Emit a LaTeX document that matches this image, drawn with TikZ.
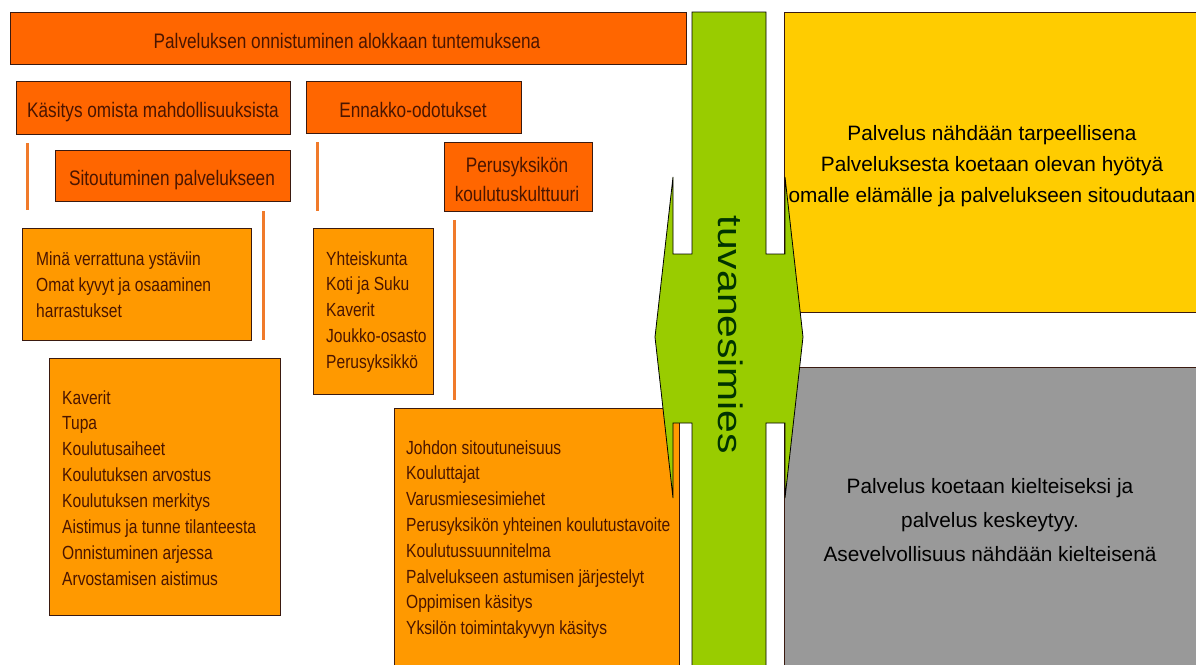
\documentclass[tikz,border=0pt]{standalone}
\usepackage{fontspec}
\setmainfont{Liberation Sans}
\newfontfamily\narrowfont[FakeStretch=0.82]{Liberation Sans}
\newfontfamily\wideflow[FakeStretch=1.2]{Liberation Sans}
\definecolor{titleor}{HTML}{FF6600}
\definecolor{listor}{HTML}{FF9900}
\definecolor{greenbar}{HTML}{99CC00}
\definecolor{yellowbox}{HTML}{FFCC00}
\definecolor{graybox}{HTML}{999999}
\definecolor{edge}{HTML}{3A1A10}
\definecolor{ortext}{HTML}{4A1500}
\definecolor{linkor}{HTML}{F07A2A}
\definecolor{gtext}{HTML}{003300}
\begin{document}
\begin{tikzpicture}[x=1pt,y=-1pt,
  boxshape/.style={draw=edge, line width=1pt},
  labelbox/.style={boxshape, fill=titleor},
  listbox/.style={boxshape, fill=listor},
  labeltxt/.style={anchor=base, inner sep=0pt, text=ortext, font=\narrowfont\fontsize{21}{25}\selectfont},
  listtxt/.style={anchor=base west, inner sep=0pt, text=ortext, font=\narrowfont\fontsize{19}{26}\selectfont},
  resulttxt/.style={anchor=base, inner sep=0pt, text=black, font=\fontsize{20.8}{31}\selectfont},
  link/.style={draw=linkor, line width=3pt},
]
\useasboundingbox (0,0) rectangle (1196,664);
\clip (0,0) rectangle (1196,664);
\fill[white] (0,0) rectangle (1196,664);

% boxes
\draw[labelbox] (10,12) rectangle (686,64);
\draw[labelbox] (16,81) rectangle (290,134);
\draw[labelbox] (306,81) rectangle (521,133);
\draw[labelbox] (55,150) rectangle (290,201);
\draw[labelbox] (444,142) rectangle (592,211);
\draw[listbox] (22,228) rectangle (251,340);
\draw[listbox] (313,228) rectangle (433,394);
\draw[listbox] (49,358) rectangle (280,615);
\draw[listbox] (394,408) rectangle (679,690);
\draw[boxshape, fill=yellowbox] (784,12) rectangle (1220,312);
\draw[boxshape, fill=graybox] (784,367) rectangle (1220,690);

% orange separator lines
\coordinate (l1a) at (27,143);  \coordinate (l1b) at (27,210);
\coordinate (l2a) at (263,211); \coordinate (l2b) at (263,340);
\coordinate (l3a) at (317,142); \coordinate (l3b) at (317,211);
\coordinate (l4a) at (454,220); \coordinate (l4b) at (454,400);
\draw[link] (l1a) -- (l1b);
\draw[link] (l2a) -- (l2b);
\draw[link] (l3a) -- (l3b);
\draw[link] (l4a) -- (l4b);

% green double arrow with vertical bar
\draw[fill=greenbar, draw=black, line width=0.8pt, line join=miter]
  (692,12) -- (766,12) -- (766,254) -- (785,254) -- (785,177) -- (803,337)
  -- (785,498) -- (785,423) -- (766,423) -- (766,700) -- (692,700)
  -- (692,423) -- (673,423) -- (673,498) -- (655,337) -- (673,177)
  -- (673,254) -- (692,254) -- cycle;
\node[rotate=-90, anchor=base, inner sep=0pt, text=gtext, font=\wideflow\fontsize{34}{40}\selectfont] (tuva) at (718,335) {tuvanesimies};

% labels
\node[labeltxt] (title) at (347,48) {Palveluksen onnistuminen alokkaan tuntemuksena};
\node[labeltxt] (kas) at (153,117) {Käsitys omista mahdollisuuksista};
\node[labeltxt] (enn) at (413,117) {Ennakko-odotukset};
\node[labeltxt] (sit) at (172,185) {Sitoutuminen palvelukseen};
\node[labeltxt] (per1) at (517,172) {Perusyksikön};
\node[labeltxt] (per2) at (517,201) {koulutuskulttuuri};

% lists
\foreach \t [count=\i] in {Minä verrattuna ystäviin, Omat kyvyt ja osaaminen, harrastukset}
  \node[listtxt] (mina\i) at (36,{265+26*(\i-1)}) {\t};
\foreach \t [count=\i] in {Yhteiskunta, Koti ja Suku, Kaverit, Joukko-osasto, Perusyksikkö}
  \node[listtxt] (yht\i) at (326,{265+25.8*(\i-1)}) {\t};
\foreach \t [count=\i] in {Kaverit, Tupa, Koulutusaiheet, Koulutuksen arvostus, Koulutuksen merkitys, Aistimus ja tunne tilanteesta, Onnistuminen arjessa, Arvostamisen aistimus}
  \node[listtxt] (kav\i) at (62,{404+25.9*(\i-1)}) {\t};
\foreach \t [count=\i] in {Johdon sitoutuneisuus, Kouluttajat, Varusmiesesimiehet, Perusyksikön yhteinen koulutustavoite, Koulutussuunnitelma, Palvelukseen astumisen järjestelyt, Oppimisen käsitys, Yksilön toimintakyvyn käsitys}
  \node[listtxt] (joh\i) at (406,{454+25.8*(\i-1)}) {\t};

% results
\node[resulttxt] (yes1) at (992,140) {Palvelus nähdään tarpeellisena};
\node[resulttxt] (yes2) at (992,171) {Palveluksesta koetaan olevan hyötyä};
\node[resulttxt] (yes3) at (992,202) {omalle elämälle ja palvelukseen sitoudutaan};
\node[resulttxt] (no1) at (990,493) {Palvelus koetaan kielteiseksi ja};
\node[resulttxt] (no2) at (990,527) {palvelus keskeytyy.};
\node[resulttxt] (no3) at (990,561) {Asevelvollisuus nähdään kielteisenä};
\end{tikzpicture}
\end{document}
